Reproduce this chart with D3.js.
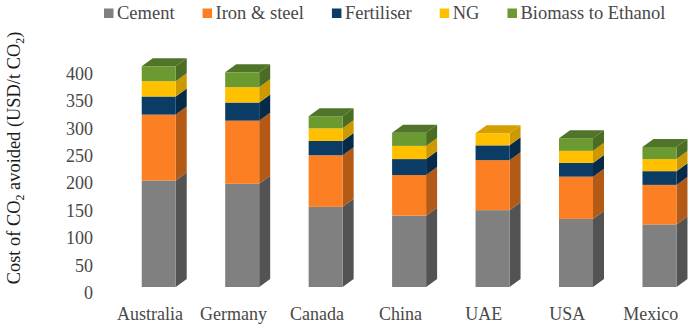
<!DOCTYPE html>
<html>
<head>
<meta charset="utf-8">
<script src="https://cdn.jsdelivr.net/npm/d3@7"></script>
<style>
body { margin: 0; background: #fff; }
svg { display: block; }
text { font-family: "Liberation Serif", serif; fill: #484848; }
</style>
</head>
<body>
<svg width="699" height="326"></svg>
<script>
var countries = ["Australia", "Germany", "Canada", "China", "UAE", "USA", "Mexico"];
var seriesNames = ["Cement", "Iron & steel", "Fertiliser", "NG", "Biomass to Ethanol"];

var cement = [194, 188, 146, 130, 140, 124, 114];
var ironSteel = [120, 115, 94, 74, 91, 77, 72];
var fertiliser = [33, 33, 26, 29, 27, 25, 25];
var ng = [28, 28, 23, 24, 22, 22, 22];
var biomass = [27, 27, 22, 24, 0, 23, 22];

var yTicks = [0, 50, 100, 150, 200, 250, 300, 350, 400];

var frontColors = ["#808080", "#fd7f23", "#0b3c66", "#ffc000", "#6b9a31"];
var sideColors = ["#535353", "#b25a16", "#072a48", "#cc9a00", "#4b6d23"];
var topColors = ["#5f5f5f", "#c0611a", "#08304f", "#d69f00", "#50752a"];

var seriesValues = [cement, ironSteel, fertiliser, ng, biomass];

var svg = d3.select("svg");

var baseY = 287;      // front edge of the bars
var depthX = 11;      // 3d offset
var depthY = 8;
var barWidth = 34;
var barShift = 8.7;   // bars sit right of the label centre because of the 3d floor
var axisDrop = 6;     // axis labels are lined up with the floor, below the front edge

var x = d3.scaleBand().domain(countries).range([108.3, 692.5]);
var y = d3.scaleLinear().domain([0, 400]).range([baseY, baseY - 219.6]);

countries.forEach(function (c, i) {
	var left = x(c) + x.bandwidth() / 2 + barShift - barWidth / 2;
	var right = left + barWidth;
	var sum = 0;
	var g = svg.append("g");

	seriesValues.forEach(function (values, s) {
		var v = values[i];
		if (v === 0) return;
		var y0 = y(sum);
		var y1 = y(sum + v);
		sum += v;

		// side face
		g.append("polygon")
		.attr("points", [[right, y0], [right + depthX, y0 - depthY], [right + depthX, y1 - depthY], [right, y1]].join(" "))
		.style("fill", sideColors[s]);

		// front face
		g.append("rect")
		.attr("x", left)
		.attr("y", y1)
		.attr("width", barWidth)
		.attr("height", y0 - y1)
		.style("fill", frontColors[s]);
	});

	// top face takes the colour of the uppermost series
	var topSeries = d3.max(seriesValues.map(function (values, s) { return values[i] > 0 ? s : -1; }));
	var yTop = y(sum);
	g.append("polygon")
	.attr("points", [[left, yTop], [left + depthX, yTop - depthY], [right + depthX, yTop - depthY], [right, yTop]].join(" "))
	.style("fill", topColors[topSeries]);
});

// y axis, labels only
var yAxis = svg.append("g")
.attr("transform", "translate(93," + axisDrop + ")")
.call(d3.axisLeft(y).tickValues(yTicks).tickSize(0).tickPadding(0));
yAxis.select(".domain").remove();
yAxis.selectAll("text")
.style("font-family", '"Liberation Serif", serif')
.style("font-size", "18px")
.style("fill", "#484848");

// x axis, labels only
var xAxis = svg.append("g")
.attr("transform", "translate(0,307)")
.call(d3.axisBottom(x).tickSize(0).tickPadding(0));
xAxis.select(".domain").remove();
xAxis.selectAll("text")
.style("font-family", '"Liberation Serif", serif')
.style("font-size", "18px")
.style("fill", "#484848");

// y title with subscripts
var title = svg.append("text")
.attr("transform", "translate(20,158) rotate(-90)")
.attr("text-anchor", "middle")
.style("font-size", "18.4px")
.style("fill", "#1a1a1a");
title.append("tspan").text("Cost of CO");
title.append("tspan").text("2").attr("dy", 4).style("font-size", "12px");
title.append("tspan").text(" avoided (USD/t CO").attr("dy", -4);
title.append("tspan").text("2").attr("dy", 4).style("font-size", "12px");
title.append("tspan").text(")").attr("dy", -4);

// legend, flowed from the text widths
var legendX = 104;
seriesNames.forEach(function (name, s) {
	svg.append("rect")
	.attr("x", legendX)
	.attr("y", 8.5)
	.attr("width", 9.5)
	.attr("height", 9.5)
	.style("fill", frontColors[s]);

	var t = svg.append("text")
	.attr("x", legendX + 13)
	.attr("y", 19)
	.style("font-size", "18.5px")
	.text(name);

	legendX += 13 + t.node().getComputedTextLength() + 28;
});
</script>
</body>
</html>
